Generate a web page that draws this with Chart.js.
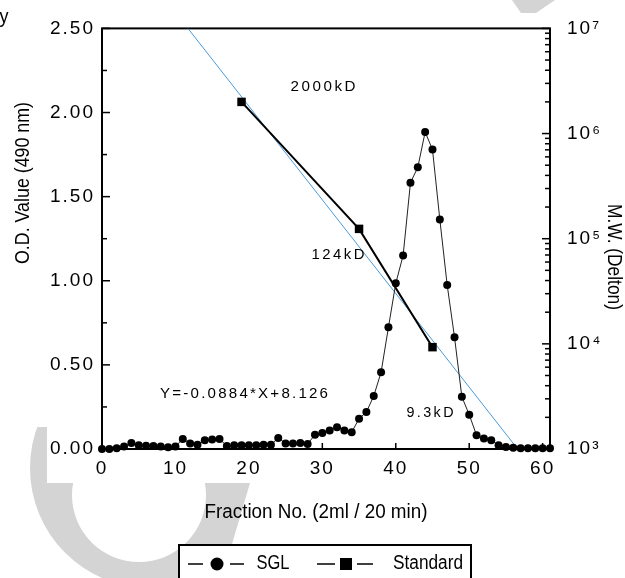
<!DOCTYPE html>
<html>
<head>
<meta charset="utf-8">
<script src="https://cdn.jsdelivr.net/npm/chart.js@4.4.0/dist/chart.umd.min.js"></script>
<style>html,body{margin:0;padding:0;background:#fff}canvas{display:block}</style>
</head>
<body>
<canvas id="grafico" width="625" height="578"></canvas>
<script>
// datos
const fraction = [0,1,2,3,4,5,6,7,8,9,10,11,12,13,14,15,16,17,18,19,20,21,22,23,24,25,26,27,28,29,30,
  31,32,33,34,35,36,37,38,39,40,41,42,43,44,45,46,47,48,49,50,51,52,53,54,55,56,57,58,59,60,61];
const sglOD = [0.0,0.0,0.005,0.015,0.035,0.023,0.02,0.018,0.015,0.01,0.015,0.06,0.033,0.025,0.052,0.056,
  0.06,0.018,0.022,0.022,0.022,0.022,0.025,0.025,0.066,0.033,0.033,0.035,0.03,0.085,0.095,0.11,0.13,0.11,
  0.10,0.18,0.22,0.315,0.456,0.723,0.985,1.15,1.583,1.674,1.884,1.78,1.364,0.975,0.664,0.31,0.204,0.082,
  0.062,0.052,0.023,0.012,0.008,0.005,0.005,0.005,0.005,0.005];
const stdFraction = [19, 35, 45];
const stdMW = [2000000, 124000, 9300];
const stdLabels = ['2000kD', '124kD', '9.3kD'];
const fitFraction = [11.7, 56.6];
const fitMW = [10000000, 1000];
const fitLabel = 'Y=-0.0884*X+8.126';
const xTicks = [0, 10, 20, 30, 40, 50, 60];
const odTicks = [0, 0.5, 1, 1.5, 2, 2.5];
const mwTicks = [1e3, 1e4, 1e5, 1e6, 1e7];
const mwTickLabels = ['10³', '10⁴', '10⁵', '10⁶', '10⁷'];

const FONT = "'Liberation Sans', Arial, sans-serif";

function texto(ctx, t, cx, cy, w, size, rot, sp) {
  sp = sp || 0;
  ctx.save();
  ctx.font = size + 'px ' + FONT;
  ctx.letterSpacing = sp + 'px';
  const m = ctx.measureText(t).width - sp;
  ctx.translate(cx, cy);
  if (rot) ctx.rotate(rot);
  ctx.scale(w / m, 1);
  ctx.textAlign = 'center'; ctx.textBaseline = 'middle';
  ctx.fillStyle = '#000';
  ctx.fillText(t, sp / 2, 0);
  ctx.restore();
}

const decor = {
  id: 'decor',
  beforeDraw(chart) {
    const ctx = chart.ctx;
    ctx.fillStyle = '#fff'; ctx.fillRect(0, 0, 625, 578);
    // marca de agua
    ctx.save();
    ctx.beginPath();
    ctx.moveTo(0, 0); ctx.lineTo(250, 0); ctx.lineTo(250, 483); ctx.lineTo(222, 578); ctx.lineTo(0, 578);
    ctx.closePath(); ctx.clip();
    ctx.beginPath();
    ctx.arc(150, 468, 120, 0, Math.PI * 2);
    ctx.moveTo(139 + 67, 495);
    ctx.arc(139, 495, 67, 0, Math.PI * 2);
    ctx.fillStyle = '#d4d4d4'; ctx.fill('evenodd');
    ctx.restore();
    ctx.fillStyle = '#fff';
    ctx.fillRect(47, 0, 578, 483);
    ctx.fillRect(0, 0, 47, 427);
    ctx.beginPath();
    ctx.moveTo(512, 0); ctx.lineTo(555, 0); ctx.lineTo(536, 13); ctx.lineTo(521, 13); ctx.closePath();
    ctx.fillStyle = '#d4d4d4'; ctx.fill();
    ctx.letterSpacing = '2px';
  },
  beforeDatasetsDraw(chart) {
    const { ctx, chartArea: a, scales: { x, y, y1 } } = chart;
    ctx.save();
    ctx.letterSpacing = '0px';
    ctx.strokeStyle = '#000';
    ctx.lineWidth = 1.5;
    const tick = (x0, y0, dx, dy) => { ctx.beginPath(); ctx.moveTo(x0, y0); ctx.lineTo(x0 + dx, y0 + dy); ctx.stroke(); };
    odTicks.forEach((v, i) => {
      tick(a.left, y.getPixelForValue(v), 8, 0);
      if (i < odTicks.length - 1) tick(a.left, y.getPixelForValue((v + odTicks[i + 1]) / 2), 5, 0);
    });
    xTicks.forEach(v => tick(x.getPixelForValue(v), a.bottom, 0, -6));
    mwTicks.forEach((v, i) => {
      tick(a.right, y1.getPixelForValue(v), -8, 0);
      if (i < mwTicks.length - 1) for (let k = 2; k < 10; k++) tick(a.right, y1.getPixelForValue(v * k), -5, 0);
    });
    ctx.lineWidth = 2;
    ctx.strokeRect(a.left, a.top, a.right - a.left, a.bottom - a.top);
    ctx.restore();
  },
  afterDraw(chart) {
    const ctx = chart.ctx;
    texto(ctx, 'y', 4, 17, 9, 20);
    texto(ctx, 'O.D. Value (490 nm)', 23, 183, 162, 20, -Math.PI / 2);
    texto(ctx, 'M.W. (Delton)', 614, 257, 106, 20, Math.PI / 2);
    texto(ctx, 'Fraction No. (2ml / 20 min)', 316, 512, 223, 20);
    texto(ctx, stdLabels[0], 323, 87, 65, 15, 0, 2.5);
    texto(ctx, stdLabels[1], 338, 255, 53, 15, 0, 2.5);
    texto(ctx, stdLabels[2], 430, 413, 47, 15, 0, 2.5);
    texto(ctx, fitLabel, 244, 394, 168, 15, 0, 2.2);
    // leyenda
    ctx.save();
    ctx.letterSpacing = '0px';
    ctx.fillStyle = '#fff'; ctx.fillRect(179, 545, 292, 40);
    ctx.strokeStyle = '#000'; ctx.lineWidth = 2; ctx.strokeRect(179, 545, 292, 40);
    ctx.lineWidth = 1.5;
    [[188, 203], [230, 244], [317, 335], [357, 373]].forEach(s => {
      ctx.beginPath(); ctx.moveTo(s[0], 564); ctx.lineTo(s[1], 564); ctx.stroke();
    });
    ctx.fillStyle = '#000';
    ctx.beginPath(); ctx.arc(217, 564, 6.5, 0, Math.PI * 2); ctx.fill();
    ctx.fillRect(340, 558, 12, 12);
    ctx.restore();
    texto(ctx, 'SGL', 273, 563, 33, 20);
    texto(ctx, 'Standard', 428, 563, 70, 20);
  }
};

const tickFont = { family: FONT, size: 19 };

new Chart(document.getElementById('grafico'), {
  type: 'line',
  data: {
    datasets: [
      { label: 'SGL', data: fraction.map((f, i) => ({ x: f, y: sglOD[i] })), yAxisID: 'y',
        borderColor: '#222', borderWidth: 1, backgroundColor: '#000', pointRadius: 4, pointBorderWidth: 0,
        tension: 0, clip: false },
      { label: 'Standard', data: stdFraction.map((f, i) => ({ x: f, y: stdMW[i] })), yAxisID: 'y1',
        borderColor: '#000', borderWidth: 2, backgroundColor: '#000', pointStyle: 'rect', pointRadius: 6,
        pointBorderWidth: 0, tension: 0, clip: false },
      { label: 'fit', data: fitFraction.map((f, i) => ({ x: f, y: fitMW[i] })), yAxisID: 'y1',
        borderColor: '#4b9ad9', borderWidth: 1, pointRadius: 0, tension: 0 }
    ]
  },
  options: {
    responsive: false, animation: false, devicePixelRatio: 1,
    layout: { padding: { top: 20, left: 0, right: 0, bottom: 0 } },
    plugins: { legend: { display: false }, tooltip: { enabled: false } },
    scales: {
      x: {
        type: 'linear', min: 0, max: 61,
        afterBuildTicks: s => { s.ticks = xTicks.map(v => ({ value: v })); },
        afterFit: s => { s.height = 129; },
        grid: { display: false, drawTicks: false }, border: { display: false },
        ticks: { font: tickFont, color: '#000', padding: 8, maxRotation: 0, autoSkip: false }
      },
      y: {
        position: 'left', min: 0, max: 2.5,
        afterBuildTicks: s => { s.ticks = odTicks.map(v => ({ value: v })); },
        afterFit: s => { s.width = 102; },
        grid: { display: false, drawTicks: false }, border: { display: false },
        ticks: { font: tickFont, color: '#000', padding: 7, callback: v => v.toFixed(2) }
      },
      y1: {
        type: 'logarithmic', position: 'right', min: 1e3, max: 1e7,
        afterBuildTicks: s => { s.ticks = mwTicks.map(v => ({ value: v })); },
        afterFit: s => { s.width = 75; },
        grid: { display: false, drawTicks: false }, border: { display: false },
        ticks: { font: tickFont, color: '#000', padding: 17, autoSkip: false,
          callback: (v, i) => mwTickLabels[i] }
      }
    }
  },
  plugins: [decor]
});
</script>
</body>
</html>
